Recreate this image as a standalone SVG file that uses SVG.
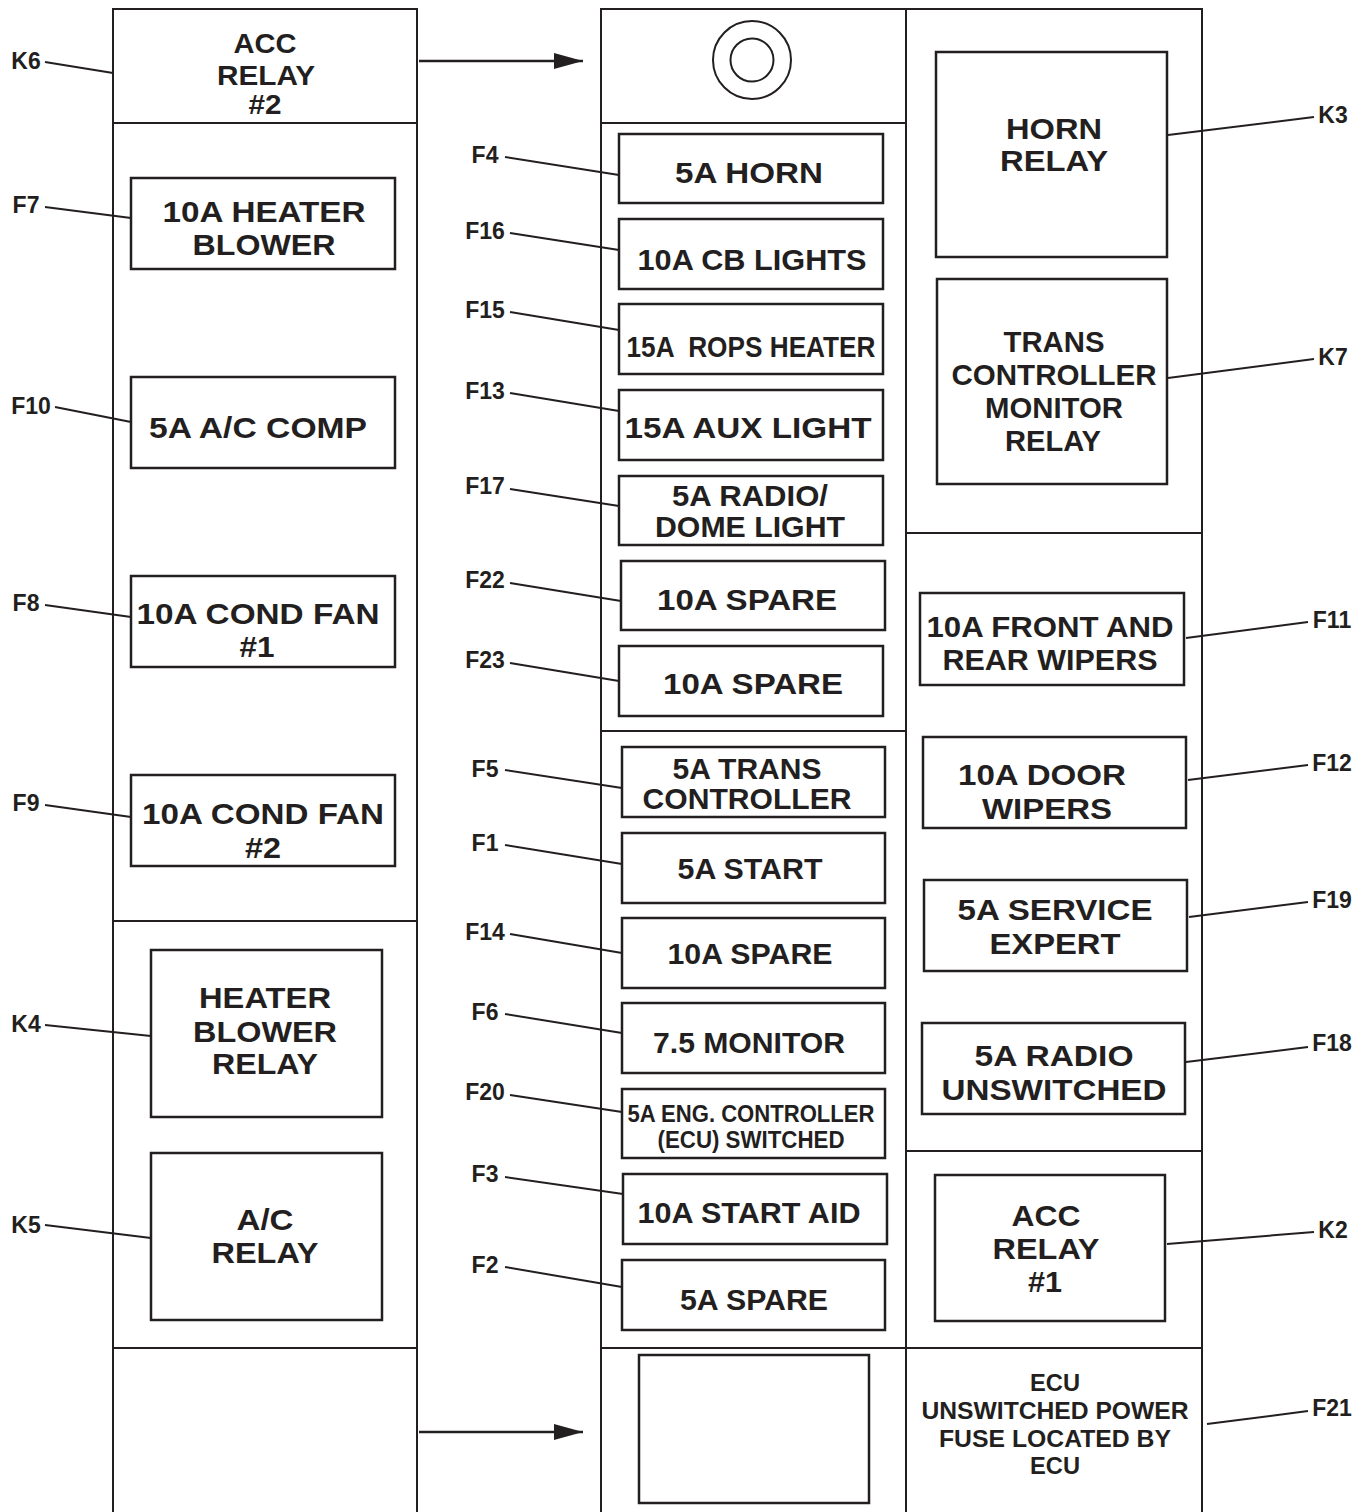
<svg xmlns="http://www.w3.org/2000/svg" width="1366" height="1512" viewBox="0 0 1366 1512">
<style>
.frame{fill:none;stroke:#231f20;stroke-width:2}
.box{fill:#fff;stroke:#231f20;stroke-width:2.5}
.ln{stroke:#231f20;stroke-width:2;fill:none}
.ar{stroke:#231f20;stroke-width:2.5;fill:none}
.t{font-family:"Liberation Sans",Arial,sans-serif;font-weight:bold;font-size:30px;fill:#231f20;text-anchor:middle}
.k{font-size:28px}
.s{font-size:24px}
.e{font-size:24px}
.lb{font-family:"Liberation Sans",Arial,sans-serif;font-weight:bold;font-size:23px;fill:#231f20;text-anchor:middle}
</style>
<defs>
<marker id="ah" markerWidth="29" markerHeight="16" refX="29" refY="8" orient="auto" markerUnits="userSpaceOnUse">
<path d="M0,0 L29,8 L0,16 Z" fill="#231f20"/>
</marker>
</defs>
<rect width="1366" height="1512" fill="#fff"/>
<g id="frames">
<rect class="frame" x="113" y="9" width="304" height="1510"/>
<line class="ln" x1="113" y1="123" x2="417" y2="123"/>
<line class="ln" x1="113" y1="921" x2="417" y2="921"/>
<line class="ln" x1="113" y1="1348" x2="417" y2="1348"/>
<rect class="frame" x="601" y="9" width="601" height="1510"/>
<line class="ln" x1="906" y1="9" x2="906" y2="1512"/>
<line class="ln" x1="601" y1="123" x2="906" y2="123"/>
<line class="ln" x1="601" y1="731" x2="906" y2="731"/>
<line class="ln" x1="601" y1="1348" x2="1202" y2="1348"/>
<line class="ln" x1="906" y1="533" x2="1202" y2="533"/>
<line class="ln" x1="906" y1="1151" x2="1202" y2="1151"/>
<circle class="frame" cx="752" cy="60" r="39"/>
<circle class="frame" cx="752" cy="60" r="21.5"/>
<rect class="box" x="639" y="1355" width="230" height="148"/>
</g>
<g id="K6"><text class="t k" x="265" y="53" textLength="63" lengthAdjust="spacingAndGlyphs">ACC</text><text class="t k" x="266" y="85" textLength="98" lengthAdjust="spacingAndGlyphs">RELAY</text><text class="t k" x="265" y="114" textLength="33" lengthAdjust="spacingAndGlyphs">#2</text></g>
<g id="F7"><rect class="box" x="131" y="178" width="264" height="91"/><text class="t" x="264" y="222" textLength="203" lengthAdjust="spacingAndGlyphs">10A HEATER</text><text class="t" x="264" y="255" textLength="143" lengthAdjust="spacingAndGlyphs">BLOWER</text></g>
<g id="F10"><rect class="box" x="131" y="377" width="264" height="91"/><text class="t" x="258" y="438" textLength="218" lengthAdjust="spacingAndGlyphs">5A A/C COMP</text></g>
<g id="F8"><rect class="box" x="131" y="576" width="264" height="91"/><text class="t" x="258" y="624" textLength="243" lengthAdjust="spacingAndGlyphs">10A COND FAN</text><text class="t" x="257" y="657" textLength="35" lengthAdjust="spacingAndGlyphs">#1</text></g>
<g id="F9"><rect class="box" x="131" y="775" width="264" height="91"/><text class="t" x="263" y="824" textLength="242" lengthAdjust="spacingAndGlyphs">10A COND FAN</text><text class="t" x="263" y="858" textLength="36" lengthAdjust="spacingAndGlyphs">#2</text></g>
<g id="K4"><rect class="box" x="151" y="950" width="231" height="167"/><text class="t" x="265" y="1008" textLength="132" lengthAdjust="spacingAndGlyphs">HEATER</text><text class="t" x="265" y="1042" textLength="144" lengthAdjust="spacingAndGlyphs">BLOWER</text><text class="t" x="265" y="1074" textLength="106" lengthAdjust="spacingAndGlyphs">RELAY</text></g>
<g id="K5"><rect class="box" x="151" y="1153" width="231" height="167"/><text class="t" x="265" y="1230" textLength="57" lengthAdjust="spacingAndGlyphs">A/C</text><text class="t" x="265" y="1263" textLength="107" lengthAdjust="spacingAndGlyphs">RELAY</text></g>
<g id="F4"><rect class="box" x="619" y="134" width="264" height="69"/><text class="t" x="749" y="183" textLength="148" lengthAdjust="spacingAndGlyphs">5A HORN</text></g>
<g id="F16"><rect class="box" x="619" y="219" width="264" height="70"/><text class="t" x="752" y="270" textLength="229" lengthAdjust="spacingAndGlyphs">10A CB LIGHTS</text></g>
<g id="F15"><rect class="box" x="619" y="304" width="264" height="70"/><text class="t" x="751" y="357" textLength="249" lengthAdjust="spacingAndGlyphs" xml:space="preserve">15A  ROPS HEATER</text></g>
<g id="F13"><rect class="box" x="619" y="390" width="264" height="70"/><text class="t" x="748" y="438" textLength="247" lengthAdjust="spacingAndGlyphs">15A AUX LIGHT</text></g>
<g id="F17"><rect class="box" x="619" y="476" width="264" height="69"/><text class="t" x="750" y="506" textLength="156" lengthAdjust="spacingAndGlyphs">5A RADIO/</text><text class="t" x="750" y="537" textLength="190" lengthAdjust="spacingAndGlyphs">DOME LIGHT</text></g>
<g id="F22"><rect class="box" x="621" y="561" width="264" height="69"/><text class="t" x="747" y="610" textLength="180" lengthAdjust="spacingAndGlyphs">10A SPARE</text></g>
<g id="F23"><rect class="box" x="619" y="646" width="264" height="70"/><text class="t" x="753" y="694" textLength="180" lengthAdjust="spacingAndGlyphs">10A SPARE</text></g>
<g id="F5"><rect class="box" x="622" y="747" width="263" height="70"/><text class="t" x="747" y="779" textLength="149" lengthAdjust="spacingAndGlyphs">5A TRANS</text><text class="t" x="747" y="809" textLength="209" lengthAdjust="spacingAndGlyphs">CONTROLLER</text></g>
<g id="F1"><rect class="box" x="622" y="833" width="263" height="70"/><text class="t" x="750" y="879" textLength="145" lengthAdjust="spacingAndGlyphs">5A START</text></g>
<g id="F14"><rect class="box" x="622" y="918" width="263" height="70"/><text class="t" x="750" y="964" textLength="165" lengthAdjust="spacingAndGlyphs">10A SPARE</text></g>
<g id="F6"><rect class="box" x="622" y="1003" width="263" height="70"/><text class="t" x="749" y="1053" textLength="192" lengthAdjust="spacingAndGlyphs">7.5 MONITOR</text></g>
<g id="F20"><rect class="box" x="622" y="1089" width="263" height="69"/><text class="t s" x="751" y="1122" textLength="247" lengthAdjust="spacingAndGlyphs">5A ENG. CONTROLLER</text><text class="t s" x="751" y="1148" textLength="187" lengthAdjust="spacingAndGlyphs">(ECU) SWITCHED</text></g>
<g id="F3"><rect class="box" x="623" y="1174" width="264" height="70"/><text class="t" x="749" y="1223" textLength="223" lengthAdjust="spacingAndGlyphs">10A START AID</text></g>
<g id="F2"><rect class="box" x="622" y="1260" width="263" height="70"/><text class="t" x="754" y="1310" textLength="148" lengthAdjust="spacingAndGlyphs">5A SPARE</text></g>
<g id="K3"><rect class="box" x="936" y="52" width="231" height="205"/><text class="t" x="1054" y="139" textLength="96" lengthAdjust="spacingAndGlyphs">HORN</text><text class="t" x="1054" y="171" textLength="108" lengthAdjust="spacingAndGlyphs">RELAY</text></g>
<g id="K7"><rect class="box" x="937" y="279" width="230" height="205"/><text class="t" x="1054" y="352" textLength="101" lengthAdjust="spacingAndGlyphs">TRANS</text><text class="t" x="1054" y="385" textLength="205" lengthAdjust="spacingAndGlyphs">CONTROLLER</text><text class="t" x="1054" y="418" textLength="138" lengthAdjust="spacingAndGlyphs">MONITOR</text><text class="t" x="1053" y="451" textLength="96" lengthAdjust="spacingAndGlyphs">RELAY</text></g>
<g id="F11"><rect class="box" x="920" y="593" width="264" height="92"/><text class="t" x="1050" y="637" textLength="247" lengthAdjust="spacingAndGlyphs">10A FRONT AND</text><text class="t" x="1050" y="670" textLength="215" lengthAdjust="spacingAndGlyphs">REAR WIPERS</text></g>
<g id="F12"><rect class="box" x="923" y="737" width="263" height="91"/><text class="t" x="1042" y="785" textLength="168" lengthAdjust="spacingAndGlyphs">10A DOOR</text><text class="t" x="1047" y="819" textLength="130" lengthAdjust="spacingAndGlyphs">WIPERS</text></g>
<g id="F19"><rect class="box" x="924" y="880" width="263" height="91"/><text class="t" x="1055" y="920" textLength="195" lengthAdjust="spacingAndGlyphs">5A SERVICE</text><text class="t" x="1055" y="954" textLength="131" lengthAdjust="spacingAndGlyphs">EXPERT</text></g>
<g id="F18"><rect class="box" x="922" y="1023" width="263" height="91"/><text class="t" x="1054" y="1066" textLength="159" lengthAdjust="spacingAndGlyphs">5A RADIO</text><text class="t" x="1054" y="1100" textLength="225" lengthAdjust="spacingAndGlyphs">UNSWITCHED</text></g>
<g id="K2"><rect class="box" x="935" y="1175" width="230" height="146"/><text class="t" x="1046" y="1226" textLength="69" lengthAdjust="spacingAndGlyphs">ACC</text><text class="t" x="1046" y="1259" textLength="107" lengthAdjust="spacingAndGlyphs">RELAY</text><text class="t" x="1045" y="1292" textLength="34" lengthAdjust="spacingAndGlyphs">#1</text></g>
<g id="F21"><text class="t e" x="1055" y="1391" textLength="50" lengthAdjust="spacingAndGlyphs">ECU</text><text class="t e" x="1055" y="1419" textLength="267" lengthAdjust="spacingAndGlyphs">UNSWITCHED POWER</text><text class="t e" x="1055" y="1447" textLength="232" lengthAdjust="spacingAndGlyphs">FUSE LOCATED BY</text><text class="t e" x="1055" y="1474" textLength="50" lengthAdjust="spacingAndGlyphs">ECU</text></g>
<g id="labels">
<text class="lb" x="26" y="69">K6</text>
<text class="lb" x="26" y="213">F7</text>
<text class="lb" x="31" y="414">F10</text>
<text class="lb" x="26" y="611">F8</text>
<text class="lb" x="26" y="811">F9</text>
<text class="lb" x="26" y="1032">K4</text>
<text class="lb" x="26" y="1233">K5</text>
<text class="lb" x="485" y="163">F4</text>
<text class="lb" x="485" y="239">F16</text>
<text class="lb" x="485" y="318">F15</text>
<text class="lb" x="485" y="399">F13</text>
<text class="lb" x="485" y="494">F17</text>
<text class="lb" x="485" y="588">F22</text>
<text class="lb" x="485" y="668">F23</text>
<text class="lb" x="485" y="777">F5</text>
<text class="lb" x="485" y="851">F1</text>
<text class="lb" x="485" y="940">F14</text>
<text class="lb" x="485" y="1020">F6</text>
<text class="lb" x="485" y="1100">F20</text>
<text class="lb" x="485" y="1182">F3</text>
<text class="lb" x="485" y="1273">F2</text>
<text class="lb" x="1333" y="123">K3</text>
<text class="lb" x="1333" y="365">K7</text>
<text class="lb" x="1332" y="628">F11</text>
<text class="lb" x="1332" y="771">F12</text>
<text class="lb" x="1332" y="908">F19</text>
<text class="lb" x="1332" y="1051">F18</text>
<text class="lb" x="1333" y="1238">K2</text>
<text class="lb" x="1332" y="1416">F21</text>
</g>
<g id="connectors">
<line class="ar" x1="419" y1="61" x2="583" y2="61" marker-end="url(#ah)"/>
<line class="ar" x1="419" y1="1432" x2="583" y2="1432" marker-end="url(#ah)"/>
<line class="ln" x1="45" y1="62" x2="113" y2="73"/>
<line class="ln" x1="45" y1="207" x2="131" y2="218"/>
<line class="ln" x1="55" y1="407" x2="131" y2="422"/>
<line class="ln" x1="45" y1="605" x2="131" y2="617"/>
<line class="ln" x1="45" y1="805" x2="131" y2="817"/>
<line class="ln" x1="45" y1="1025" x2="151" y2="1036"/>
<line class="ln" x1="45" y1="1225" x2="151" y2="1238"/>
<line class="ln" x1="505" y1="157" x2="619" y2="175"/>
<line class="ln" x1="510" y1="233" x2="619" y2="250"/>
<line class="ln" x1="510" y1="312" x2="619" y2="330"/>
<line class="ln" x1="510" y1="393" x2="619" y2="411"/>
<line class="ln" x1="510" y1="489" x2="619" y2="506"/>
<line class="ln" x1="510" y1="583" x2="621" y2="601"/>
<line class="ln" x1="510" y1="663" x2="619" y2="681"/>
<line class="ln" x1="505" y1="770" x2="622" y2="788"/>
<line class="ln" x1="505" y1="845" x2="622" y2="864"/>
<line class="ln" x1="510" y1="934" x2="622" y2="953"/>
<line class="ln" x1="505" y1="1014" x2="622" y2="1033"/>
<line class="ln" x1="510" y1="1095" x2="622" y2="1112"/>
<line class="ln" x1="505" y1="1177" x2="623" y2="1194"/>
<line class="ln" x1="505" y1="1267" x2="622" y2="1287"/>
<line class="ln" x1="1168" y1="135" x2="1314" y2="117"/>
<line class="ln" x1="1168" y1="378" x2="1314" y2="359"/>
<line class="ln" x1="1186" y1="638" x2="1308" y2="622"/>
<line class="ln" x1="1188" y1="780" x2="1308" y2="765"/>
<line class="ln" x1="1189" y1="917" x2="1308" y2="902"/>
<line class="ln" x1="1186" y1="1062" x2="1308" y2="1047"/>
<line class="ln" x1="1167" y1="1244" x2="1314" y2="1232"/>
<line class="ln" x1="1207" y1="1424" x2="1308" y2="1411"/>
</g>
</svg>
